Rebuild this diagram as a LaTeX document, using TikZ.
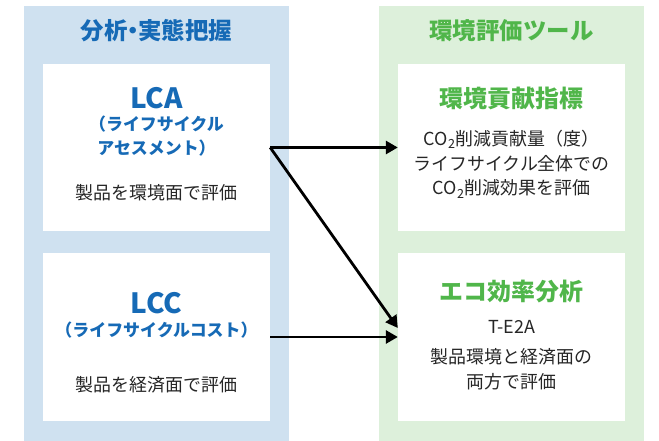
\documentclass[tikz,border=0pt]{standalone}
\usepackage{fontspec}
\setmainfont{Noto Sans CJK JP}
\usetikzlibrary{arrows.meta}

\definecolor{paleblue}{RGB}{207,225,240}
\definecolor{palegreen}{RGB}{221,240,219}
\definecolor{inkblue}{RGB}{22,106,182}
\definecolor{inkgreen}{RGB}{80,182,74}
\definecolor{inkgray}{RGB}{38,38,38}

\begin{document}
\begin{tikzpicture}[
  x=1bp, y=-1bp,
  card/.style={fill=white, minimum width=227bp, minimum height=167bp, inner sep=0pt},
  heading/.style={font=\fontsize{23.5}{27}\selectfont\bfseries},
  label/.style={font=\fontsize{24}{28}\selectfont\bfseries, text=inkgreen},
  tool/.style={font=\fontsize{28}{32}\selectfont\bfseries, text=inkblue},
  sub/.style={font=\fontsize{17}{24}\selectfont\bfseries, text=inkblue, align=center},
  body/.style={font=\fontsize{18}{25}\selectfont, text=inkgray, align=center},
  link/.style={line width=2.8bp, -{Triangle[length=12bp,width=13bp]}},
]
\useasboundingbox (0,0) rectangle (659,441);

% ── the two columns ───────────────────────────────────────────────────────
\fill[paleblue]  (24,6)  rectangle (289,441);
\fill[palegreen] (379,6) rectangle (644,441);
\node[heading, text=inkblue]  (left)  at (156.5,31)
  {分析\kern-0.27em・\kern-0.27em 実態把握};
\node[heading, text=inkgreen] (right) at (511.5,31) {環境評価ツール};

% ── the cards ─────────────────────────────────────────────────────────────
\node[card] (lca) at (156.5,147.5) {};
\node[card] (lcc) at (156.5,337)   {};
\node[card] (idx) at (511.5,147.5) {};
\node[card] (eco) at (511.5,337)   {};

% ── analysis side ─────────────────────────────────────────────────────────
\node[tool] (lcaname) at (156.5,98)  {LCA};
\node[sub]  (lcasub)  at (156.5,136) {（ライフサイクル\\アセスメント）};
\node[body] (lcatext) at (156.5,193) {製品を環境面で評価};

\node[tool] (lccname) at (156.5,303) {LCC};
\node[sub]  (lccsub)  at (156.5,330) {（ライフサイクルコスト）};
\node[body] (lcctext) at (156.5,385) {製品を経済面で評価};

% ── tool side ─────────────────────────────────────────────────────────────
\node[label] (idxname) at (511.5,98) {環境貢献指標};
\node[body] (idxtext) at (511.5,164)
  {CO\textsubscript{2}削減貢献量（度）\\ライフサイクル全体での\\CO\textsubscript{2}削減効果を評価};

\node[label] (econame) at (511.5,292) {エコ効率分析};
\node[body] (ecocode) at (511.5,327) {T-E2A};
\node[body] (ecotext) at (511.5,369.5) {製品環境と経済面の\\両方で評価};

% ── links ─────────────────────────────────────────────────────────────────
\draw[link] (lca.east) -- (idx.west);
\draw[link] (lca.east) -- ([yshift=9bp]eco.west);
\draw[link] (lcc.east) -- (eco.west);

\end{tikzpicture}
\end{document}
